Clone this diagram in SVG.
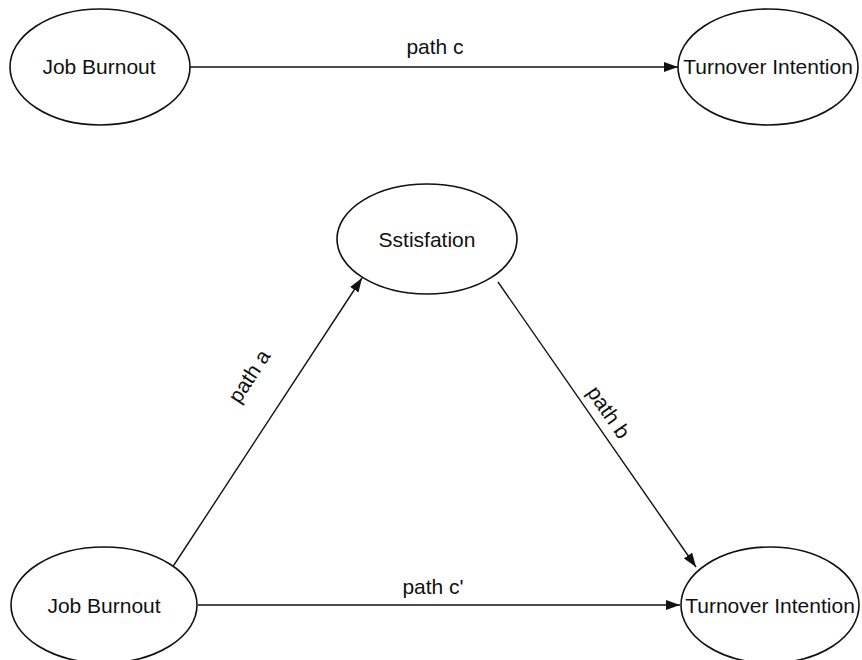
<svg xmlns="http://www.w3.org/2000/svg" width="862" height="660" viewBox="0 0 862 660">
  <style>
    .node ellipse { fill: #ffffff; stroke: #111111; stroke-width: 1.6; }
    .node text, .label { font-family: "Liberation Sans", Arial, sans-serif; font-size: 21px; fill: #111111; text-anchor: middle; dominant-baseline: central; }
    .edge { stroke: #111111; stroke-width: 1.4; fill: none; marker-end: url(#arrow); }
  </style>
  <defs>
    <marker id="arrow" viewBox="0 0 14 10" refX="14" refY="5" markerWidth="14" markerHeight="10" markerUnits="userSpaceOnUse" orient="auto">
      <path d="M0,0 L14,5 L0,10 Z" fill="#111111"/>
    </marker>
  </defs>

  <g id="connectors">
    <line class="edge" x1="190" y1="67" x2="678" y2="67"/>
    <line class="edge" x1="172" y1="568" x2="362" y2="278"/>
    <line class="edge" x1="498" y1="282" x2="696" y2="567"/>
    <line class="edge" x1="198" y1="605" x2="680" y2="605"/>
    <text class="label" x="435" y="46">path c</text>
    <text class="label" x="433" y="586">path c'</text>
    <text class="label" transform="translate(249,376) rotate(-56.8)">path a</text>
    <text class="label" transform="translate(609,412) rotate(55.3)">path b</text>
  </g>

  <g id="burnout-top" class="node">
    <ellipse cx="100" cy="67" rx="90" ry="58"/>
    <text x="99" y="66">Job Burnout</text>
  </g>
  <g id="turnover-top" class="node">
    <ellipse cx="768" cy="67" rx="90" ry="58"/>
    <text x="768" y="66">Turnover Intention</text>
  </g>
  <g id="satisfaction" class="node">
    <ellipse cx="427" cy="239" rx="90" ry="55"/>
    <text x="427" y="239">Sstisfation</text>
  </g>
  <g id="burnout-bottom" class="node">
    <ellipse cx="104" cy="605" rx="93" ry="58"/>
    <text x="104" y="605">Job Burnout</text>
  </g>
  <g id="turnover-bottom" class="node">
    <ellipse cx="770" cy="605" rx="89" ry="58"/>
    <text x="770" y="605">Turnover Intention</text>
  </g>
</svg>
